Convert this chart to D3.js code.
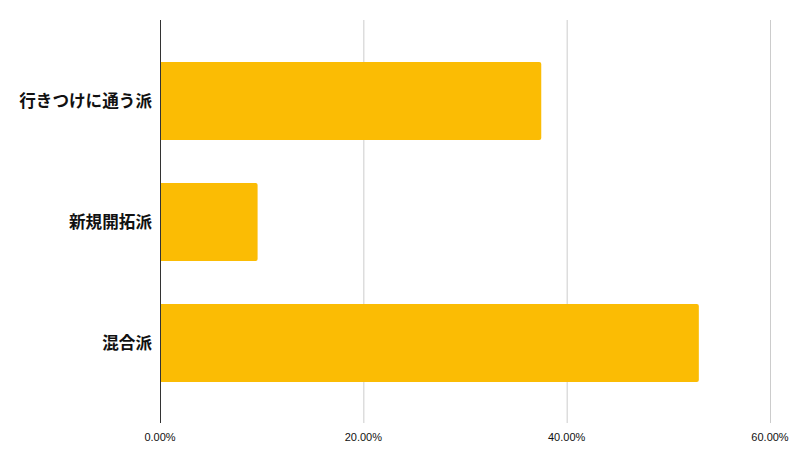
<!DOCTYPE html>
<html>
<head>
<meta charset="utf-8">
<script src="https://cdn.jsdelivr.net/npm/d3@7"></script>
<style>
  body { margin: 0; background: #fff; }
  svg { display: block; }
</style>
</head>
<body>
<div id="chart"></div>
<script>
// data
const categories = ["行きつけに通う派", "新規開拓派", "混合派"];
const shares = [37.5, 9.6, 53.0]; // percent
const xTicks = [0, 20, 40, 60];

const width = 796, height = 465;
const plotLeft = 160, plotRight = 770, plotTop = 20, plotBottom = 423;

const svg = d3.select("#chart").append("svg")
  .attr("width", width)
  .attr("height", height);

const x = d3.scaleLinear().domain([0, 60]).range([plotLeft, plotRight]);
const y = d3.scaleBand()
  .domain(categories)
  .range([40.5, 403.5])
  .paddingInner(0.355)
  .paddingOuter(0.1775);

// vertical grid lines
svg.append("g")
  .selectAll("line")
  .data(xTicks.filter(d => d > 0))
  .enter().append("line")
    .attr("x1", d => x(d) + 0.5)
    .attr("x2", d => x(d) + 0.5)
    .attr("y1", plotTop)
    .attr("y2", plotBottom)
    .attr("stroke", "#cccccc")
    .attr("stroke-width", 1);

// bars, rounded on the right end only
const r = 2;
svg.append("g")
  .selectAll("path")
  .data(categories)
  .enter().append("path")
    .attr("fill", "#fbbc04")
    .attr("d", (c, i) => {
      const x0 = x(0), x1 = x(shares[i]);
      const y0 = y(c), y1 = y(c) + y.bandwidth();
      return `M${x0},${y0}H${x1 - r}Q${x1},${y0} ${x1},${y0 + r}` +
             `V${y1 - r}Q${x1},${y1} ${x1 - r},${y1}H${x0}Z`;
    });

// baseline axis
svg.append("line")
  .attr("x1", plotLeft + 0.5).attr("x2", plotLeft + 0.5)
  .attr("y1", plotTop).attr("y2", plotBottom)
  .attr("stroke", "#333333")
  .attr("stroke-width", 1);

// x tick labels
svg.append("g")
  .selectAll("text")
  .data(xTicks)
  .enter().append("text")
    .attr("x", d => x(d))
    .attr("y", 441)
    .attr("text-anchor", "middle")
    .attr("font-family", "'Liberation Sans', Arial, sans-serif")
    .attr("font-size", 11)
    .attr("fill", "#111")
    .text(d => d3.format(".2f")(d) + "%");

// category labels
svg.append("g")
  .selectAll("text")
  .data(categories)
  .enter().append("text")
    .attr("x", 152)
    .attr("y", c => y(c) + y.bandwidth() / 2)
    .attr("dy", "0.35em")
    .attr("text-anchor", "end")
    .attr("font-family", "'Noto Sans CJK JP', sans-serif")
    .attr("font-weight", "bold")
    .attr("font-size", 16.6)
    .attr("fill", "#111")
    .text(c => c);
</script>
</body>
</html>
